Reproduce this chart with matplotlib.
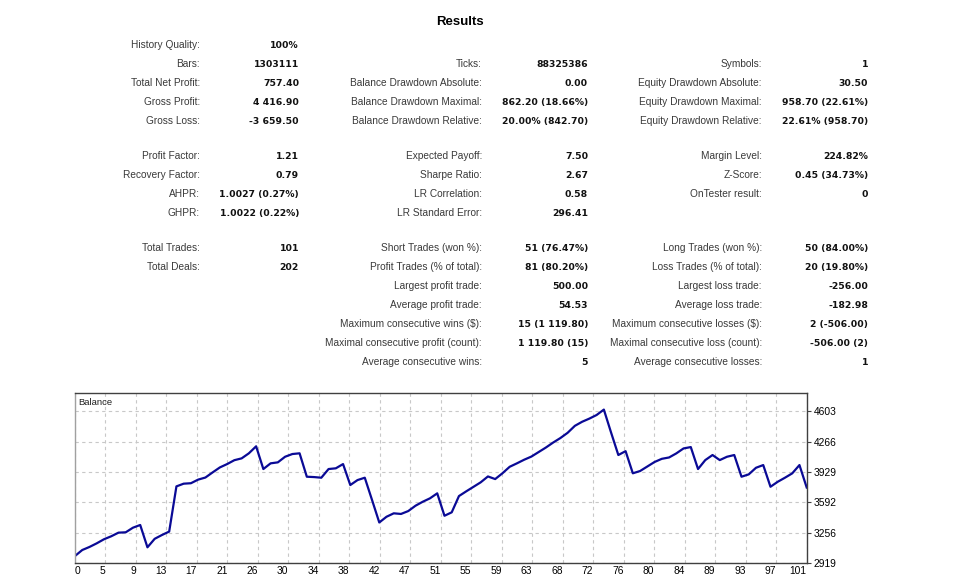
import matplotlib
matplotlib.use("Agg")
import matplotlib.pyplot as plt

# ---- report table data ----
col1_labels = ["History Quality:", "Bars:", "Total Net Profit:", "Gross Profit:", "Gross Loss:",
               "Profit Factor:", "Recovery Factor:", "AHPR:", "GHPR:",
               "Total Trades:", "Total Deals:"]
col1_values = ["100%", "1303111", "757.40", "4 416.90", "-3 659.50",
               "1.21", "0.79", "1.0027 (0.27%)", "1.0022 (0.22%)",
               "101", "202"]
col1_rows = [0, 1, 2, 3, 4, 5, 6, 7, 8, 9, 10]

col2_labels = ["Ticks:", "Balance Drawdown Absolute:", "Balance Drawdown Maximal:", "Balance Drawdown Relative:",
               "Expected Payoff:", "Sharpe Ratio:", "LR Correlation:", "LR Standard Error:",
               "Short Trades (won %):", "Profit Trades (% of total):", "Largest profit trade:",
               "Average profit trade:", "Maximum consecutive wins ($):",
               "Maximal consecutive profit (count):", "Average consecutive wins:"]
col2_values = ["88325386", "0.00", "862.20 (18.66%)", "20.00% (842.70)",
               "7.50", "2.67", "0.58", "296.41",
               "51 (76.47%)", "81 (80.20%)", "500.00", "54.53", "15 (1 119.80)",
               "1 119.80 (15)", "5"]
col2_rows = [1, 2, 3, 4, 5, 6, 7, 8, 9, 10, 11, 12, 13, 14, 15]

col3_labels = ["Symbols:", "Equity Drawdown Absolute:", "Equity Drawdown Maximal:", "Equity Drawdown Relative:",
               "Margin Level:", "Z-Score:", "OnTester result:",
               "Long Trades (won %):", "Loss Trades (% of total):", "Largest loss trade:",
               "Average loss trade:", "Maximum consecutive losses ($):",
               "Maximal consecutive loss (count):", "Average consecutive losses:"]
col3_values = ["1", "30.50", "958.70 (22.61%)", "22.61% (958.70)",
               "224.82%", "0.45 (34.73%)", "0",
               "50 (84.00%)", "20 (19.80%)", "-256.00", "-182.98", "2 (-506.00)",
               "-506.00 (2)", "1"]
col3_rows = [1, 2, 3, 4, 5, 6, 7, 9, 10, 11, 12, 13, 14, 15]

# ---- balance curve ----
balance = [3000, 3066, 3100, 3140, 3185, 3218, 3258, 3262, 3313, 3343,
           3096, 3190, 3232, 3270, 3770, 3800, 3805, 3845, 3868, 3925,
           3980, 4017, 4060, 4080, 4136, 4213.5, 3962, 4025, 4036, 4098,
           4128, 4136, 3877, 3873, 3866, 3962, 3970, 4017, 3785, 3840,
           3866, 3620, 3370.8, 3434, 3472, 3465, 3497, 3556, 3600, 3638,
           3693, 3445, 3483, 3663, 3715, 3765, 3815, 3880, 3851, 3915,
           3987, 4025, 4065, 4100, 4150, 4200, 4255, 4305, 4363, 4440,
           4485, 4520, 4560, 4619.6, 4365, 4117, 4160, 3915, 3940, 3990,
           4040, 4075, 4090, 4135, 4190, 4205, 3962, 4061, 4117, 4061,
           4098, 4117, 3877, 3903, 3976, 4006, 3766, 3821, 3866, 3914,
           4006, 3757.4]
x_labels = ["0", "5", "9", "13", "17", "21", "26", "30", "34", "38", "42", "47", "51",
            "55", "59", "63", "68", "72", "76", "80", "84", "89", "93", "97", "101"]
y_ticks = [2919, 3256, 3592, 3929, 4266, 4603]

W, H = 960, 587
FONT = "Liberation Sans"
BOLD_FONT = "DejaVu Sans"
fig = plt.figure(figsize=(W / 100, H / 100), dpi=100)


def fx(px):
    return px / W


def fy(py):
    return 1 - py / H


def row_y(r):
    # three blocks of rows
    if r <= 4:
        return 44 + 19 * r
    if r <= 8:
        return 155 + 19 * (r - 5)
    return 247 + 19 * (r - 9)


fig.text(fx(460), fy(22), "Results", ha="center", va="center",
         fontsize=9.5, fontweight="bold", family=FONT)

columns = [
    (col1_labels, col1_values, col1_rows, 200, 299),
    (col2_labels, col2_values, col2_rows, 482, 588),
    (col3_labels, col3_values, col3_rows, 762, 868),
]
for labels, values, rows, lx, vx in columns:
    for lab, val, r in zip(labels, values, rows):
        # shared baseline so labels and values line up
        y = fy(row_y(r) + 4)
        fig.text(fx(lx), y, lab, ha="right", va="baseline", fontsize=7.3,
                 color="#3a3a3a", family=FONT)
        fig.text(fx(vx), y, val, ha="right", va="baseline", fontsize=6.7,
                 fontweight="bold", color="#111111", family=BOLD_FONT)

# ---- chart ----
left, right, top, bottom = 75, 806.7, 393.3, 563.3
ax = fig.add_axes([fx(left), fy(bottom), fx(right - left), (bottom - top) / H])
xs = list(range(len(balance)))
ax.plot(xs, balance, color="#0a0a96", linewidth=1.6, solid_joinstyle="round")
n = len(balance) - 1
ax.set_xlim(0, n)
ax.set_ylim(2919, 4800)

xt = [k * n / 24 for k in range(25)]
ax.set_xticks(xt)
ax.set_xticklabels(x_labels, family=FONT, fontsize=7.4)
for i, t in enumerate(ax.get_xticklabels()):
    t.set_ha("left" if i == 0 else "right")
ax.tick_params(axis="x", length=0, pad=2)

ax.yaxis.tick_right()
ax.set_yticks(y_ticks)
ax.set_yticklabels([str(v) for v in y_ticks], family=FONT, fontsize=7.4)
ax.tick_params(axis="y", length=3, pad=2, color="#404040")

ax.grid(True, color="#c8c8c8", linestyle=(0, (3, 3)), linewidth=0.8)
for name, sp in ax.spines.items():
    sp.set_color("#404040")
    sp.set_linewidth(1.0)
ax.spines["left"].set_color("#a0a0a0")

ax.text(0.005, 0.97, "Balance", transform=ax.transAxes, ha="left", va="top",
        fontsize=6.8, family=FONT, color="#202020")

fig.savefig("out.png", dpi=100)
